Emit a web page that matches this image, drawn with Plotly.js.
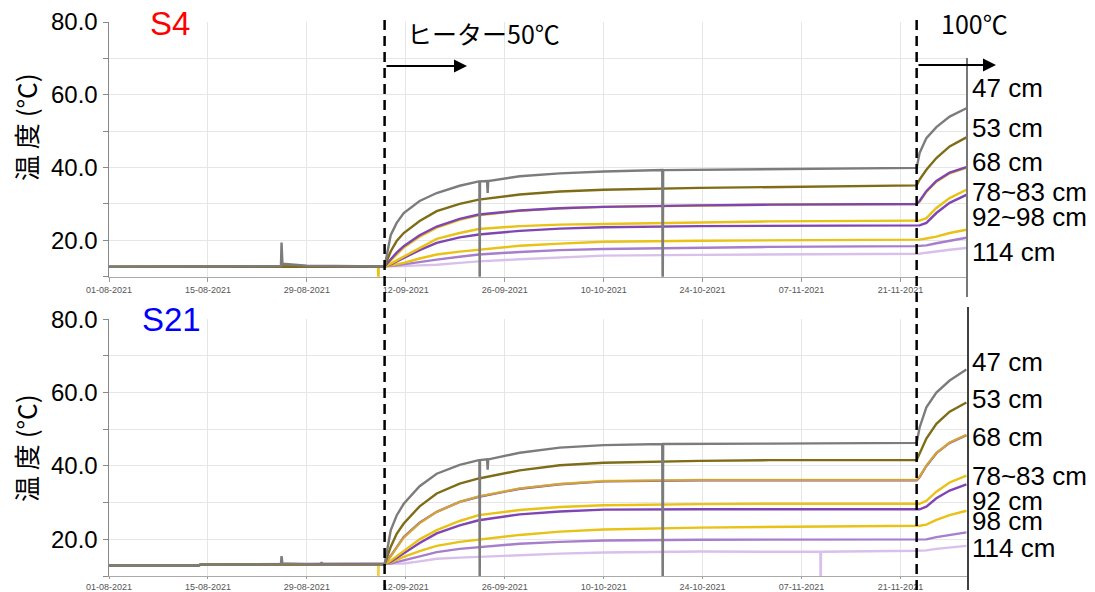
<!DOCTYPE html>
<html><head><meta charset="utf-8">
<script src="https://cdn.plot.ly/plotly-3.0.1.min.js"></script>
<style>html,body{margin:0;padding:0;background:#fff}#chart{width:1095px;height:592px}</style>
</head><body><div id="chart"></div>
<script>
// ---------- DATA ----------
const heatTimes = ['2021-09-09 00:00','2021-09-09 21:00','2021-09-10 17:00','2021-09-11 17:00','2021-09-13 23:00','2021-09-16 09:00','2021-09-19 15:00','2021-09-22 08:00','2021-09-28 03:00','2021-10-03 19:00','2021-10-10 00:00','2021-10-23 14:00','2021-11-02 12:00','2021-11-23 07:00','2021-11-23 17:00','2021-11-24 16:00','2021-11-26 02:00','2021-11-27 23:00','2021-11-30 08:00'];

// S4 baseline (before heater)
const s4BaseT = ['2021-08-01 00:00','2021-09-08 23:00'];
const s4BaseV = [12.7, 12.8];
// S4 heating values
const s4Gray    = [12.8,21.5,24.8,27.5,30.8,33.0,35.0,36.2,37.6,38.4,38.9,39.4,39.6,39.9,44.0,48.1,51.1,54.0,56.3];
const s4Olive   = [12.8,17.0,19.8,22.0,25.3,28.0,30.0,31.2,32.6,33.4,33.9,34.4,34.6,35.1,36.7,39.4,42.6,45.8,48.3];
const s4Purp68  = [12.8,14.8,16.6,18.4,21.4,23.8,25.9,27.1,28.2,28.8,29.2,29.6,29.8,30.0,30.8,33.5,36.3,38.6,40.1];
const s4Gold68  = [12.8,14.5,16.2,18.0,21.0,23.5,25.6,26.9,28.1,28.8,29.2,29.6,29.8,30.0,30.6,33.3,36.1,38.4,39.9];
const s4Gold78  = [12.8,13.6,14.5,15.6,18.0,20.4,22.0,23.1,23.9,24.3,24.5,25.0,25.2,25.4,25.4,26.1,28.9,31.6,33.9];
const s4Purp83  = [12.8,13.4,14.2,15.1,17.3,19.3,20.8,21.6,22.6,23.2,23.6,23.9,24.0,24.1,24.1,24.8,27.5,30.3,32.5];
const s4Gold92  = [12.8,13.1,13.4,13.8,15.0,16.1,16.9,17.4,18.5,19.1,19.6,19.9,20.0,20.2,20.2,20.5,21.0,22.0,22.9];
const s4Purp98  = [12.8,12.9,13.1,13.4,14.0,14.7,15.5,16.1,16.8,17.3,17.6,18.0,18.2,18.4,18.4,18.6,19.2,19.8,20.7];
const s4Lav114  = [12.8,12.8,12.9,12.9,13.1,13.3,13.8,14.2,14.8,15.3,15.8,16.0,16.1,16.3,16.3,16.6,17.0,17.4,17.9];
// S4 events (spike, dropouts)
const s4GrayEvT = ['2021-08-25 08:00','2021-08-25 10:00','2021-08-25 13:00','2021-08-29 00:00','2021-09-22 10:00','2021-09-22 11:00','2021-09-22 12:00','2021-09-23 12:00','2021-09-23 14:00','2021-09-23 16:00','2021-10-18 07:00','2021-10-18 08:30','2021-10-18 10:00'];
const s4GrayEvV = [12.9,19.4,13.6,13.0,36.2,0,36.2,36.3,33.0,36.3,39.3,0,39.3];
const goldDipT  = ['2021-09-08 02:00','2021-09-08 03:00','2021-09-08 04:00'];
const s4GoldDipV = [12.7,0,12.7];

// S21 baseline
const s21BaseT = ['2021-08-01 00:00','2021-08-13 12:00','2021-08-14 00:00','2021-09-08 23:00'];
const s21BaseV = [12.8,12.8,13.1,13.2];
// S21 heating values
const s21Gray   = [13.2,22.5,26.5,29.7,34.5,37.9,40.3,41.6,43.6,45.0,45.7,46.1,46.1,46.3,50.5,56.0,60.0,63.3,66.3];
const s21Olive  = [13.2,18.0,21.5,24.3,29.0,32.5,35.2,36.6,38.8,40.2,40.9,41.4,41.6,41.6,43.5,47.5,51.5,54.8,57.3];
const s21Purp68 = [13.2,15.5,17.9,20.6,24.5,27.5,30.2,31.6,33.8,35.0,35.8,36.1,36.1,36.1,37.0,40.0,43.5,46.3,48.4];
const s21Gold68 = [13.2,15.4,17.8,20.5,24.4,27.5,30.2,31.7,33.9,35.1,35.9,36.2,36.2,36.2,37.1,40.1,43.6,46.4,48.5];
const s21Gold78 = [13.2,14.2,15.4,17.0,20.0,22.5,25.0,26.6,28.0,28.8,29.3,29.6,29.7,29.7,29.7,30.5,33.0,35.5,37.4];
const s21Purp92 = [13.2,13.9,14.9,16.1,19.0,21.6,23.8,25.2,26.8,27.6,28.1,28.2,28.2,28.2,28.2,28.9,31.2,33.3,35.0];
const s21Gold98 = [13.2,13.7,14.4,15.2,16.8,18.2,19.3,19.9,21.2,22.1,22.7,23.2,23.4,23.7,23.7,24.0,25.3,26.6,27.8];
const s21Purp98 = [13.2,13.4,13.8,14.3,15.5,16.5,17.4,17.9,18.8,19.3,19.7,19.9,19.9,19.8,19.8,20.0,20.6,21.2,21.9];
const s21Lav114 = [13.2,13.2,13.3,13.4,14.0,14.7,15.0,15.2,15.8,16.1,16.4,16.7,16.6,16.9,16.9,17.0,17.4,17.8,18.2];
const s21GrayEvT = ['2021-08-25 08:00','2021-08-25 10:00','2021-08-25 13:00','2021-08-31 00:00','2021-08-31 02:00','2021-08-31 04:00','2021-09-22 10:00','2021-09-22 11:00','2021-09-22 12:00','2021-09-23 12:00','2021-09-23 14:00','2021-09-23 16:00','2021-10-18 07:00','2021-10-18 08:30','2021-10-18 10:00'];
const s21GrayEvV = [13.2,15.4,13.4,13.1,13.8,13.1,41.6,0,41.6,41.8,39.0,41.8,46.0,0,46.0];
const s21GoldDipV = [13.1,0,13.1];
const s21LavEvT = ['2021-11-09 16:00','2021-11-09 17:00','2021-11-09 18:00'];
const s21LavEvV = [16.6,0,16.6];

// Labels
const s4Labels  = ['47 cm','53 cm','68 cm','78~83 cm','92~98 cm','114 cm'];
const s21Labels = ['47 cm','53 cm','68 cm','78~83 cm','92 cm','98 cm','114 cm'];
const heater1 = '2021-09-09 00:00', heater2 = '2021-11-23 07:00';
const xStart = '2021-08-01 00:00', xEnd = '2021-11-30 10:00';
const yTickVals = [10,20,30,40,50,60,70,80];
const yTickText = ['','20.0','','40.0','','60.0','','80.0'];

// ---------- BUILD ----------
function ts(s){ const [d,t]=s.split(' '); const [Y,M,D]=d.split('-').map(Number); const [h,m]=(t||'00:00').split(':').map(Number); return Date.UTC(Y,M-1,D,h,m); }
function build(baseT, baseV, heatV, evT, evV){
  const pts=[];
  baseT.forEach((t,i)=>pts.push([t,baseV[i]]));
  heatTimes.forEach((t,i)=>pts.push([t,heatV[i]]));
  (evT||[]).forEach((t,i)=>pts.push([t,evV[i]]));
  pts.sort((a,b)=>ts(a[0])-ts(b[0]));
  return {x:pts.map(p=>p[0]), y:pts.map(p=>p[1])};
}
const C = {gray:'#7c7c7c', olive:'#7f6c17', gold:'#e8c214', purple:'#7f45b4', purpleL:'#a67ecc', lav:'#d8c0ea'};
function tr(d, color, ax, w, op){
  return {type:'scatter', mode:'lines', x:d.x, y:d.y, xaxis:ax[0], yaxis:ax[1],
    line:{color:color, width:w||2.4}, opacity:op||1, hoverinfo:'skip'};
}
const A1=['x','y'], A2=['x2','y2'];
const traces = [
  tr(build(s4BaseT,s4BaseV,s4Lav114), C.lav, A1),
  tr(build(s4BaseT,s4BaseV,s4Purp98), C.purpleL, A1),
  tr(build(s4BaseT,s4BaseV,s4Gold92), C.gold, A1),
  tr(build(s4BaseT,s4BaseV,s4Purp83), C.purple, A1),
  tr(build(s4BaseT,s4BaseV,s4Gold78), C.gold, A1),
  tr(build(s4BaseT,s4BaseV,s4Gold68,goldDipT,s4GoldDipV), C.gold, A1),
  tr(build(s4BaseT,s4BaseV,s4Purp68), C.purple, A1),
  tr(build(s4BaseT,s4BaseV,s4Olive), C.olive, A1),
  tr(build(s4BaseT,s4BaseV,s4Gray,s4GrayEvT,s4GrayEvV), C.gray, A1),

  tr(build(s21BaseT,s21BaseV,s21Lav114,s21LavEvT,s21LavEvV), C.lav, A2),
  tr(build(s21BaseT,s21BaseV,s21Purp98), C.purpleL, A2),
  tr(build(s21BaseT,s21BaseV,s21Gold98), C.gold, A2),
  tr(build(s21BaseT,s21BaseV,s21Purp92), C.purple, A2),
  tr(build(s21BaseT,s21BaseV,s21Gold78), C.gold, A2),
  tr(build(s21BaseT,s21BaseV,s21Purp68), C.purple, A2),
  tr(build(s21BaseT,s21BaseV,s21Gold68,goldDipT,s21GoldDipV), C.gold, A2, 2.4, 0.75),
  tr(build(s21BaseT,s21BaseV,s21Olive), C.olive, A2),
  tr(build(s21BaseT,s21BaseV,s21Gray,s21GrayEvT,s21GrayEvV), C.gray, A2)
];

// ---------- LAYOUT ----------
const FONT = 'Liberation Sans, Arial, sans-serif';
const JP = 'Noto Sans CJK JP, sans-serif';
const L=109, T=22, W=858, H=554;
const px = v => (v-L)/W;          // pixel x -> paper
const py = v => (T+H-v)/H;        // pixel y -> paper

function xax(anchor, tl){
  return {anchor:anchor, domain:[0,1], type:'date', range:[xStart,xEnd], tick0:'2021-08-01', dtick:14*86400000,
    tickformat:'%d-%m-%Y', tickfont:{family:FONT,size:9,color:'#555'}, showgrid:true, gridcolor:'#e6e6e6', gridwidth:1,
    showline:true, linecolor:'#aaa', linewidth:1, ticks:'outside', ticklen:tl, tickcolor:'#999', zeroline:false, fixedrange:true};
}
function yax(anchor, dom){
  return {anchor:anchor, domain:dom, range:[10,80], tickvals:yTickVals, ticktext:yTickText,
    tickfont:{family:FONT,size:24,color:'#000'}, ticks:'outside', ticklen:5, tickcolor:'#888',
    showline:true, linecolor:'#888', linewidth:1.5, showgrid:true, gridcolor:'#e6e6e6', zeroline:false, fixedrange:true};
}

const yTitle = '温 度 (°C)';
const annotations = [
  {text:'S4', xref:'paper', yref:'paper', x:px(170), y:py(23.5), xanchor:'center', yanchor:'middle', showarrow:false, font:{family:FONT,size:33,color:'#ff0000'}},
  {text:'S21', xref:'paper', yref:'paper', x:px(171), y:py(319.5), xanchor:'center', yanchor:'middle', showarrow:false, font:{family:FONT,size:33,color:'#0000ff'}},
  {text:yTitle, xref:'paper', yref:'paper', x:px(25), y:py(128), textangle:-90, xanchor:'center', yanchor:'middle', showarrow:false, font:{family:JP,size:26,color:'#000'}},
  {text:yTitle, xref:'paper', yref:'paper', x:px(25), y:py(449), textangle:-90, xanchor:'center', yanchor:'middle', showarrow:false, font:{family:JP,size:26,color:'#000'}},
  {text:'ヒーター50℃', xref:'paper', yref:'paper', x:px(405), y:py(33), xanchor:'left', yanchor:'middle', showarrow:false, font:{family:JP,size:25,color:'#000'}},
  {text:'100℃', xref:'paper', yref:'paper', x:px(939), y:py(22.5), xanchor:'left', yanchor:'middle', showarrow:false, font:{family:JP,size:25,color:'#000'}},
  {text:'', xref:'paper', yref:'paper', x:px(467), y:py(66), ax:-82, ay:0, showarrow:true, arrowhead:2, arrowwidth:2, arrowsize:1.3, arrowcolor:'#000'},
  {text:'', xref:'paper', yref:'paper', x:px(996), y:py(65), ax:-79, ay:0, showarrow:true, arrowhead:2, arrowwidth:2, arrowsize:1.3, arrowcolor:'#000'}
];
const s4LabY = [88,128,162,192,217,252];
const s21LabY = [362,399,437,476,501,521,548];
s4Labels.forEach((t,i)=>annotations.push({text:t, xref:'paper', yref:'paper', x:px(970), y:py(s4LabY[i]), xanchor:'left', yanchor:'middle', showarrow:false, font:{family:FONT,size:26,color:'#000'}}));
s21Labels.forEach((t,i)=>annotations.push({text:t, xref:'paper', yref:'paper', x:px(970), y:py(s21LabY[i]), xanchor:'left', yanchor:'middle', showarrow:false, font:{family:FONT,size:26,color:'#000'}}));

const shapes = [
  {type:'line', xref:'x', yref:'paper', x0:heater1, x1:heater1, y0:py(590), y1:py(20), line:{color:'#000', width:2.5, dash:'10px,6px'}},
  {type:'line', xref:'x', yref:'paper', x0:heater2, x1:heater2, y0:py(590), y1:py(20), line:{color:'#000', width:2.5, dash:'10px,6px'}},
  {type:'line', xref:'paper', yref:'paper', x0:px(967), x1:px(967), y0:py(297), y1:py(58), line:{color:'#777', width:2}},
  {type:'line', xref:'paper', yref:'paper', x0:px(968), x1:px(968), y0:py(590), y1:py(307), line:{color:'#000', width:1.5}}
];

const layout = {
  width:1095, height:592, margin:{l:L, r:1095-L-W, t:T, b:592-T-H, pad:0},
  paper_bgcolor:'#fff', plot_bgcolor:'#fff', showlegend:false,
  font:{family:FONT, color:'#000'},
  xaxis:xax('y',4), yaxis:yax('x',[py(276.7),1]),
  xaxis2:xax('y2',2), yaxis2:yax('x2',[0,py(319.3)]),
  annotations:annotations, shapes:shapes
};
Plotly.newPlot('chart', traces, layout, {staticPlot:true, displayModeBar:false});
</script></body></html>
